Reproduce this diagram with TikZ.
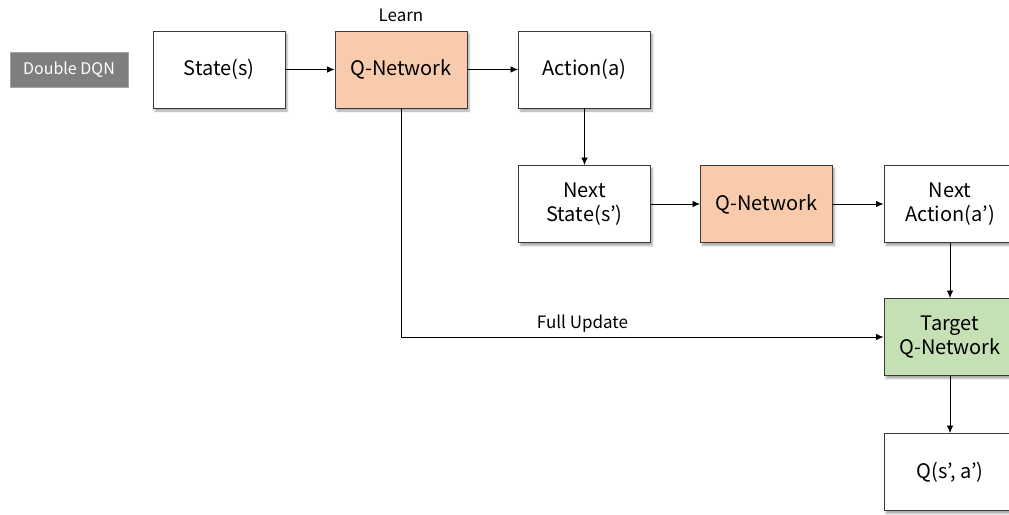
\documentclass[tikz,border=0pt]{standalone}
\usepackage{fontspec}
\setmainfont{Noto Sans CJK KR}
\usetikzlibrary{arrows.meta,shadows.blur}
\definecolor{qorange}{HTML}{F8CBAD}
\definecolor{tgreen}{HTML}{C5E0B4}
\definecolor{tagGray}{HTML}{7F7F7F}
\definecolor{edgeGray}{HTML}{3A3A3A}
\tikzset{
  box/.style={draw=edgeGray, line width=0.9pt, fill=white, minimum width=132pt,
    minimum height=77pt, inner sep=0pt, align=center, font=\fontsize{20}{24}\selectfont,
    blur shadow={shadow xshift=2pt, shadow yshift=-3pt, shadow blur steps=5, shadow opacity=35}},
  qbox/.style={box, fill=qorange},
  tbox/.style={box, fill=tgreen},
  tag/.style={fill=tagGray, draw=tagGray!70, text=white, minimum width=118pt,
    minimum height=35pt, inner sep=0pt, font=\fontsize{16}{19}\selectfont},
  link/.style={draw=black, line width=0.8pt, -{Latex[length=7.5pt,width=6.5pt]}},
  note/.style={font=\fontsize{17}{20}\selectfont, inner sep=0pt}
}
\begin{document}
\begin{tikzpicture}[x=1pt,y=-1pt]
  \useasboundingbox (0,0) rectangle (1009,514);
  \clip (0,0) rectangle (1009,514);
  % title tag
  \node[tag] (tag) at (69,70) {Double DQN};
  % first row
  \node[box]  (state)  at (219,69.5) {State(s)};
  \node[qbox] (qnet)   at (401,69.5) {Q-Network};
  \node[box]  (action) at (584.5,69.5) {Action(a)};
  \node[note] (learn)  at (401,15) {Learn};
  % second row
  \node[box]  (nstate)  at (584.5,204) {Next\\State(s’)};
  \node[qbox] (qnet2)   at (766.5,204) {Q-Network};
  \node[box]  (naction) at (950,204) {Next\\Action(a’)};
  % right column
  \node[tbox] (target) at (950,337) {Target\\Q-Network};
  \node[box]  (qval)   at (950,472) {Q(s’, a’)};
  % connectors
  \draw[link] (state) -- (qnet);
  \draw[link] (qnet) -- (action);
  \draw[link] (action) -- (nstate);
  \draw[link] (nstate) -- (qnet2);
  \draw[link] (qnet2) -- (naction);
  \draw[link] (naction) -- (target);
  \draw[link] (target) -- (qval);
  \draw[link] (qnet.south) |- (target.west)
    node[note, pos=0.688, above=4pt] (full) {Full Update};
\end{tikzpicture}
\end{document}
